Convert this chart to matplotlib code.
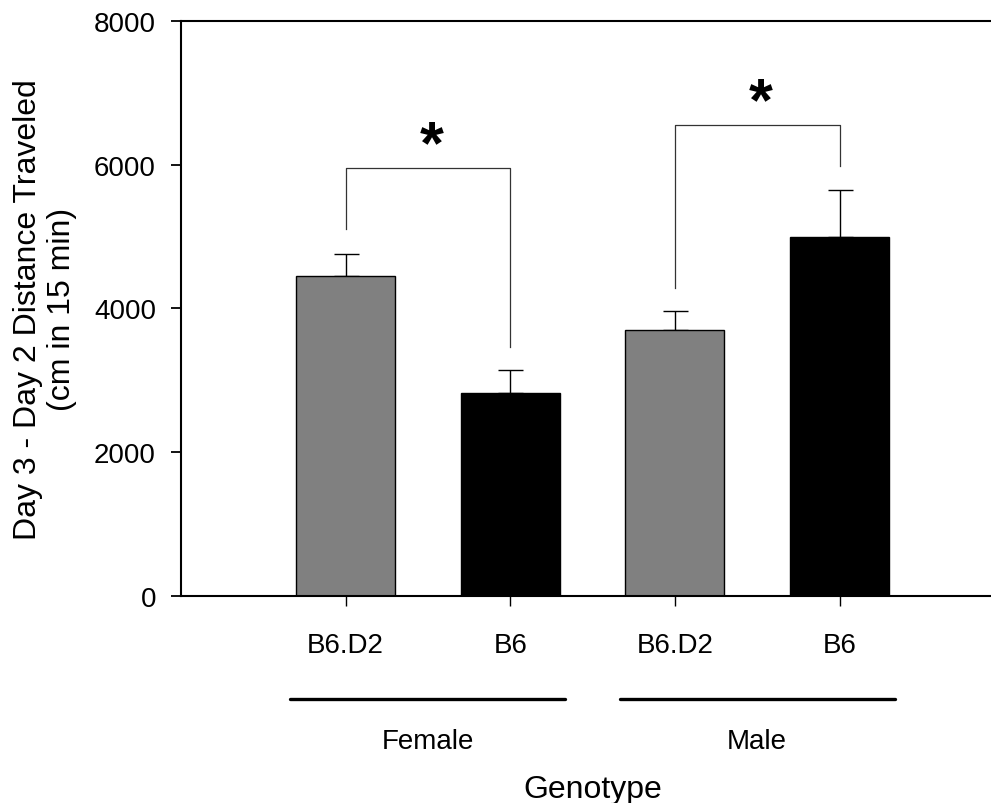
import matplotlib.pyplot as plt
import numpy as np

plt.rcParams['font.family'] = ['Liberation Sans', 'DejaVu Sans']

# Data
genotypes = ['B6.D2', 'B6', 'B6.D2', 'B6']
means = [4450, 2820, 3700, 5000]
sems = [310, 330, 260, 650]
bar_colors = ['#808080', '#000000', '#808080', '#000000']
sexes = ['Female', 'Male']

# significance brackets: (x left, x right, y left start, y top, y right end)
brackets = [
    (1, 2, 5100, 5950, 3460),
    (3, 4, 4280, 6550, 5980),
]
star_pos = [(1.52, 6030), (3.52, 6640)]

x = np.arange(1, len(means) + 1)

fig = plt.figure(figsize=(9.91, 8.04), dpi=100)
ax = fig.add_axes([0.1826, 0.2575, 0.8174, 0.7151])

ax.bar(x, means, width=0.6, color=bar_colors, edgecolor='black', linewidth=1.0, zorder=2)
ax.errorbar(x, means, yerr=[np.zeros(len(sems)), sems], fmt='none',
            ecolor='black', elinewidth=1.0, capsize=9, capthick=1.0, zorder=1)

for xl, xr, y0, ytop, y1 in brackets:
    ax.plot([xl, xl, xr, xr], [y0, ytop, ytop, y1], color='#333333', lw=0.9)

for sx, sy in star_pos:
    ax.text(sx, sy, '*', ha='center', va='baseline', fontsize=44, fontweight='bold')

ax.set_xlim(0, 4.92)
ax.set_ylim(0, 8000)
ax.set_yticks([0, 2000, 4000, 6000, 8000])
ax.set_xticks(x)
ax.set_xticklabels(genotypes)

for side in ['left', 'bottom', 'top']:
    ax.spines[side].set_linewidth(1.5)
ax.spines['right'].set_visible(False)

ax.tick_params(axis='y', direction='out', length=7, width=1.3, pad=11, labelsize=20)
ax.tick_params(axis='x', direction='out', length=7, width=1.0, pad=19, labelsize=20)

ax.set_ylabel('Day 3 - Day 2 Distance Traveled\n(cm in 15 min)', fontsize=23, labelpad=12)

# group lines and labels under the axis
trans = ax.get_xaxis_transform()
for i, sex in enumerate(sexes):
    c = 1.5 + 2 * i
    ax.plot([c - 0.835, c + 0.835], [-0.179, -0.179], color='black', lw=2.4,
            solid_capstyle='round', transform=trans, clip_on=False)
    ax.text(c, -0.252, sex, ha='center', va='center', fontsize=20, transform=trans)

ax.text(2.5, -0.336, 'Genotype', ha='center', va='center', fontsize=23, transform=trans)

fig.savefig('out.png', dpi=100)
